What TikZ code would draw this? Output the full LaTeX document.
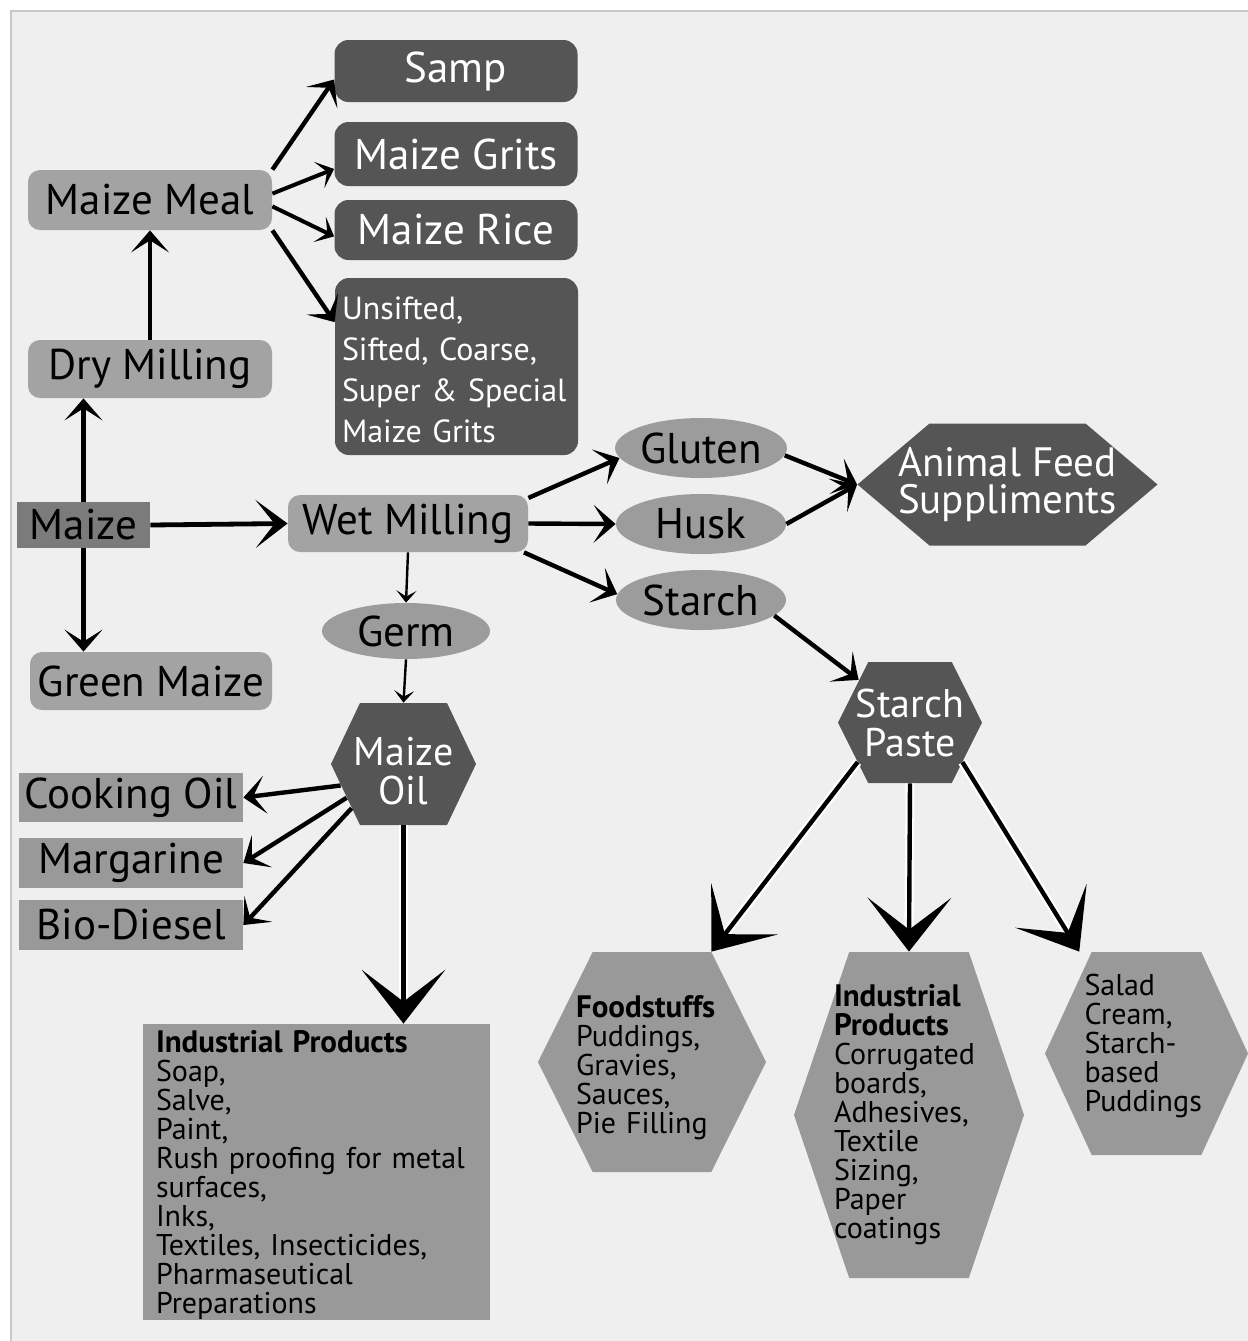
\documentclass[tikz,border=0pt]{standalone}
\usepackage{fontspec}
\setmainfont{PT Sans}
\usetikzlibrary{arrows.meta,calc,shapes.geometric}
\definecolor{grund}{HTML}{EFEFEF}
\definecolor{rahmen}{HTML}{C8C8C8}
\definecolor{dunkel}{HTML}{555555}
\definecolor{hell}{HTML}{A3A3A3}
\definecolor{ovalgrau}{HTML}{9C9C9C}
\definecolor{mittel}{HTML}{7B7B7B}
\definecolor{flach}{HTML}{999999}
\begin{document}
\begin{tikzpicture}[x=0.5pt,y=-0.5pt,
  hexcut/.store in=\hexcut, hexcut=0.22,
  big/.style={font=\fontsize{21.5}{24}\selectfont},
  small/.style={font=\fontsize{15}{14.5}\selectfont},
  darkbox/.style={big,fill=dunkel,text=white,rounded corners=7pt,inner sep=0pt,minimum width=121.5pt},
  lightbox/.style={big,fill=hell,rounded corners=6pt,inner sep=0pt,minimum width=122pt,minimum height=29pt},
  flatbox/.style={big,fill=flach,inner sep=0pt,minimum width=112pt,minimum height=25pt},
  oval/.style={big,ellipse,fill=ovalgrau,inner sep=0pt,minimum width=85pt,minimum height=30pt},
  hexa/.style={inner sep=0pt,path picture={
    \fill[#1] ($(path picture bounding box.north west)!\hexcut!(path picture bounding box.north east)$)
      -- ($(path picture bounding box.north east)!\hexcut!(path picture bounding box.north west)$)
      -- (path picture bounding box.east)
      -- ($(path picture bounding box.south east)!\hexcut!(path picture bounding box.south west)$)
      -- ($(path picture bounding box.south west)!\hexcut!(path picture bounding box.south east)$)
      -- (path picture bounding box.west) -- cycle;}},
  pfeil/.style={line width=2.2pt,-{Stealth[length=11pt,width=19pt,inset=6pt,line width=1pt]}},
  kleinpf/.style={line width=2pt,-{Stealth[length=8pt,width=14pt,inset=4.2pt,line width=0.8pt]}},
  duennpf/.style={line width=1.2pt,-{Stealth[length=6pt,width=10pt,inset=3pt,line width=0.4pt]}},
  grosspf/.style={line width=2.4pt,-{Stealth[length=16pt,width=24pt,inset=9.5pt,line width=1pt]}},
  riesenpf/.style={line width=2.2pt,-{Stealth[length=27pt,width=42pt,inset=16pt,line width=1pt]},
    preaction={draw=white,line width=4.5pt,-{Stealth[length=27pt,width=42pt,inset=16pt,line width=3.5pt]}}}
]
\useasboundingbox (0,0) rectangle (1248,1341);
\fill[color=grund] (11,11) rectangle (1248,1341);
\draw[color=rahmen,line width=1pt] (11,1341) -- (11,11) -- (1248,11);

\node (samp) at (456,71) [darkbox,minimum height=31pt] {Samp};
\node (grits) at (456,154) [darkbox,minimum height=32pt] {Maize Grits};
\node (rice) at (456,230) [darkbox,minimum height=30pt] {Maize Rice};
\node (sifted) at (456.5,366.5) [darkbox,minimum height=88.5pt,text width=114.5pt,align=left,
  font=\fontsize{16}{20.5}\selectfont] {\rule{0pt}{15pt}Unsifted,\\Sifted, Coarse,\\Super \& Special\\Maize Grits};

\node (meal) at (150,200) [lightbox,minimum height=30pt] {Maize Meal};
\node (dry) at (150,369) [lightbox] {Dry Milling};
\node (maize) at (83.5,525) [big,fill=mittel,inner sep=0pt,minimum width=66.5pt,minimum height=23pt] {Maize};
\node (wet) at (408,523.5) [lightbox,minimum width=120pt,minimum height=28.5pt] {Wet Milling};
\node (green) at (151,681) [lightbox,minimum width=121pt] {Green Maize};

\node (gluten) at (701,448) [oval] {Gluten};
\node (husk) at (701,524) [oval] {Husk};
\node (starch) at (701,600) [oval] {Starch};
\node (germ) at (406,631) [oval,minimum width=84pt,minimum height=28pt] {Germ};

\node (feed) at (1007.5,484.5) [hexa=dunkel,hexcut=0.24,minimum width=150pt,minimum height=61pt,
  text=white,align=center,font=\fontsize{20.5}{18.5}\selectfont] {Animal Feed\\Suppliments};
\node (oil) at (403.5,764) [hexa=dunkel,hexcut=0.2,minimum width=72.5pt,minimum height=61pt,
  text=white,align=center,font=\fontsize{20}{19.5}\selectfont] {\rule{0pt}{21pt}Maize\\Oil};
\node (paste) at (910,722.5) [hexa=dunkel,hexcut=0.21,minimum width=72pt,minimum height=60.5pt,
  text=white,align=center,font=\fontsize{20}{19.5}\selectfont] {\rule{0pt}{15pt}Starch\\Paste};

\node (cook) at (131,797.5) [flatbox,minimum height=24.5pt] {Cooking Oil};
\node (marg) at (131,863) [flatbox] {Margarine};
\node (bio) at (131,925) [flatbox] {Bio-Diesel};

\node (indbox) at (316.5,1172) [small,fill=flach,inner xsep=6.5pt,inner ysep=0pt,text width=160.5pt,align=left,
  minimum height=148pt] {\rule{0pt}{14pt}\textbf{\fontsize{15.5}{14.5}\selectfont Industrial Products}\\Soap,\\Salve,\\Paint,\\Rush proofing for metal\\surfaces,\\Inks,\\Textiles, Insecticides,\\Pharmaseutical\\Preparations};
\node (food) at (652,1062) [small,hexa=flach,hexcut=0.24,minimum width=114pt,minimum height=110pt,
  text width=76pt,align=left] {\rule{0pt}{17pt}\textbf{\fontsize{15.5}{14.5}\selectfont Foodstuffs}\\Puddings,\\Gravies,\\Sauces,\\Pie Filling};
\node (indhex) at (909,1115) [small,hexa=flach,hexcut=0.24,minimum width=115pt,minimum height=163pt,
  text width=75pt,align=left] {\textbf{\fontsize{15.5}{14.5}\selectfont Industrial}\\\textbf{\fontsize{15.5}{14.5}\selectfont Products}\\Corrugated\\boards,\\Adhesives,\\Textile\\Sizing,\\Paper\\coatings};
\node (salad) at (1146.5,1053.5) [small,hexa=flach,hexcut=0.23,minimum width=101.5pt,minimum height=101.5pt,
  text width=62pt,align=left] {Salad\\Cream,\\Starch-\\based\\Puddings\rule[-11pt]{0pt}{11pt}};

\draw[pfeil] (dry.north) -- (meal.south);
\draw[pfeil] (maize.north) -- (maize.north |- dry.south);
\draw[pfeil] (maize.south) -- (maize.south |- green.north);
\draw[grosspf] (maize.east) -- (wet.west);
\draw[pfeil] (meal.north east) -- (samp.184);
\draw[kleinpf] (meal.3) -- (grits.187);
\draw[kleinpf] (meal.-3) -- (rice.183);
\draw[pfeil] (meal.south east) -- (sifted.160);
\draw[pfeil] (wet.12) -- (gluten.187);
\draw[pfeil] (wet.east) -- (husk.west);
\draw[pfeil] (wet.-14) -- (starch.176);
\draw[duennpf] (wet.south) -- (germ.north);
\draw[duennpf] (germ.south) -- (oil.north);
\draw[pfeil] (gluten.-5) -- (feed.west);
\draw[pfeil] (husk.east) -- (feed.west);
\draw[pfeil] (starch.-12) -- ($(paste.west)!0.7!(paste.north west)+(21,0)$);
\draw[pfeil] ($(oil.west)!0.35!(oil.south west)+(10,0)$) -- (cook.east);
\draw[pfeil] ($(oil.west)!0.55!(oil.south west)+(16,0)$) -- (marg.east);
\draw[pfeil] ($(oil.west)!0.72!(oil.south west)+(21,0)$) -- (bio.east);
\draw[riesenpf] (oil.south) -- (oil.south |- indbox.north);
\draw[riesenpf] ($(paste.west)!0.65!(paste.south west)+(20,0)$) -- ($(food.north east)!0.24!(food.north west)$);
\draw[riesenpf] (paste.south) -- (indhex.north);
\draw[riesenpf] ($(paste.east)!0.65!(paste.south east)+(-20,0)$) -- ($(salad.north west)!0.17!(salad.north east)$);
\end{tikzpicture}
\end{document}
